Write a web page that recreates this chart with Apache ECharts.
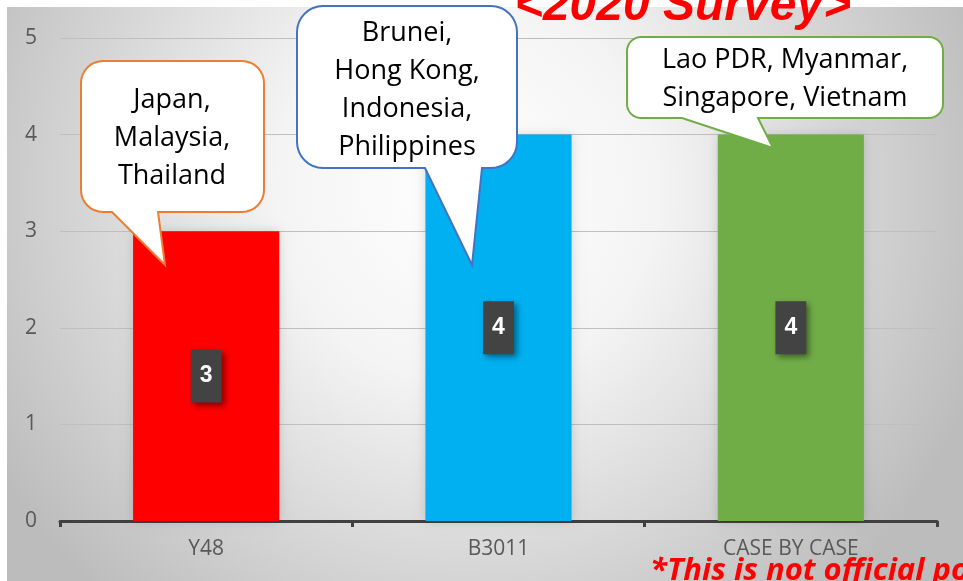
<!DOCTYPE html>
<html>
<head>
<meta charset="utf-8">
<script src="https://cdn.jsdelivr.net/npm/echarts@6/dist/echarts.min.js"></script>
<style>
  html, body { margin: 0; padding: 0; background: #fff; }
  #surveyChart { width: 963px; height: 581px; }
</style>
</head>
<body>
<div id="surveyChart"></div>
<script>
// chart data
const categories = ["Y48", "B3011", "CASE BY CASE"];
const counts = [3, 4, 4];
const barColors = ["#ff0000", "#00b0f0", "#70ad47"];
const yTicks = [0, 1, 2, 3, 4, 5];
const calloutTexts = [
    "Japan,\nMalaysia,\nThailand",
    "Brunei,\nHong Kong,\nIndonesia,\nPhilippines",
    "Lao PDR, Myanmar,\nSingapore, Vietnam",
];
const calloutBorders = ["#ed7d31", "#4472c4", "#70ad47"];

// speech bubble layout (box, tail base, tail tip, text centre)
const bubbles = [
    { x: 81, y: 61, w: 183, h: 151, r: 22, t1: 112, t2: 158, tx: 165, ty: 265, cx: 172, cy: 138 },
    { x: 297, y: 6, w: 220, h: 162, r: 26, t1: 425, t2: 482, tx: 472, ty: 265, cx: 407, cy: 90 },
    { x: 627, y: 37, w: 316, h: 81, r: 14, t1: 682, t2: 758, tx: 773, ty: 148, cx: 785, cy: 79 },
];

function cornerPoints(cx, cy, r, a0, a1) {
    const pts = [];
    for (let k = 0; k <= 8; k++) {
        const a = a0 + (a1 - a0) * k / 8;
        pts.push([cx + r * Math.cos(a), cy + r * Math.sin(a)]);
    }
    return pts;
}

function bubblePoints(b) {
    const { x, y, w, h, r } = b;
    const P = Math.PI;
    return [].concat(
        cornerPoints(x + r, y + r, r, P, 1.5 * P),
        cornerPoints(x + w - r, y + r, r, 1.5 * P, 2 * P),
        cornerPoints(x + w - r, y + h - r, r, 0, 0.5 * P),
        [[b.t2, y + h], [b.tx, b.ty], [b.t1, y + h]],
        cornerPoints(x + r, y + h - r, r, 0.5 * P, P)
    );
}

const chart = echarts.init(document.getElementById("surveyChart"));

const graphics = [
    {
        type: "rect",
        z: -100,
        silent: true,
        shape: { x: 7, y: 7, width: 956, height: 574 },
        style: {
            fill: new echarts.graphic.RadialGradient(0.48, 0.32, 0.95, [
                { offset: 0, color: "#ffffff" },
                { offset: 0.35, color: "#f4f4f4" },
                { offset: 1, color: "#bcbcbc" },
            ]),
        },
    },
];

bubbles.forEach((b, i) => {
    graphics.push({
        type: "polygon",
        z: 100,
        shape: { points: bubblePoints(b) },
        style: { fill: "#ffffff", stroke: calloutBorders[i], lineWidth: 2 },
    });
    graphics.push({
        type: "text",
        z: 101,
        x: b.cx,
        y: b.cy,
        style: {
            text: calloutTexts[i],
            fill: "#000000",
            fontSize: 27,
            fontFamily: "Open Sans",
            lineHeight: 38,
            align: "center",
            verticalAlign: "middle",
        },
    });
});

graphics.push({
    type: "text",
    z: 102,
    x: 683,
    y: 7,
    style: {
        text: "<2020 Survey>",
        fill: "#ff0000",
        fontSize: 48,
        fontWeight: "bold",
        fontStyle: "italic",
        fontFamily: "Liberation Sans",
        align: "center",
        verticalAlign: "middle",
    },
});

graphics.push({
    type: "text",
    z: 102,
    x: 650,
    y: 571,
    style: {
        text: "*This is not official position",
        fill: "#ff0000",
        fontSize: 31,
        fontWeight: "bold",
        fontStyle: "italic",
        fontFamily: "Open Sans",
        align: "left",
        verticalAlign: "middle",
    },
});

const options = {
    animation: false,
    graphic: graphics,
    grid: { left: 60, right: 26, top: 38, bottom: 60 },
    xAxis: {
        type: "category",
        data: categories,
        axisLine: { lineStyle: { color: "#404040", width: 3 } },
        axisTick: { show: true, length: 6, lineStyle: { color: "#404040", width: 3 } },
        axisLabel: { color: "#595959", fontSize: 21, fontFamily: "Open Sans", margin: 18 },
    },
    yAxis: {
        type: "value",
        min: yTicks[0],
        max: yTicks[yTicks.length - 1],
        interval: 1,
        axisLine: { show: false },
        axisTick: { show: false },
        splitLine: { lineStyle: { color: "#bfbfbf", width: 1 } },
        axisLabel: { color: "#595959", fontSize: 21, fontFamily: "Open Sans", margin: 23 },
    },
    series: [
        {
            type: "bar",
            barWidth: "50%",
            data: counts.map((v, i) => ({ value: v, itemStyle: { color: barColors[i] } })),
            itemStyle: { shadowBlur: 10, shadowColor: "rgba(0, 0, 0, 0.15)" },
            label: {
                show: true,
                position: "inside",
                color: "#ffffff",
                fontSize: 23,
                fontWeight: "bold",
                fontFamily: "Liberation Sans",
                lineHeight: 23,
                backgroundColor: "#434343",
                padding: [15, 9],
                shadowBlur: 6,
                shadowOffsetX: 3,
                shadowOffsetY: 3,
                shadowColor: "rgba(0, 0, 0, 0.45)",
            },
        },
    ],
};

chart.setOption(options);
window.addEventListener("resize", () => {
    chart.resize();
});
</script>
</body>
</html>
